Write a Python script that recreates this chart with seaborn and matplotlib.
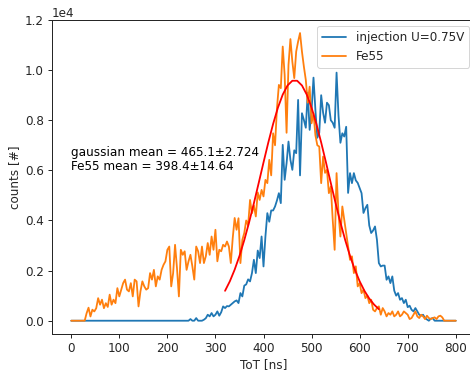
import numpy as np
import pandas as pd
import seaborn as sns
import matplotlib
matplotlib.use("Agg")
import matplotlib.pyplot as plt

sns.set_style("ticks")

tot_ns = list(range(0, 801, 4))

fe55 = [
    0, 0, 0, 0, 0, 0, 0, 0, 300, 520,
    170, 440, 370, 500, 900, 640, 840, 500, 700, 550,
    1040, 640, 840, 700, 1300, 970, 1240, 1500, 1640, 1240,
    1170, 1500, 970, 1640, 1570, 570, 1170, 1570, 1370, 1240,
    1300, 1900, 1640, 2030, 1370, 1770, 1640, 2030, 2230, 2370,
    2830, 2960, 1370, 1900, 3030, 2100, 970, 2830, 2630, 2770,
    2030, 2370, 2630, 2170, 1640, 2960, 2770, 2300, 2960, 2300,
    2570, 3100, 2630, 3360, 2830, 3630, 2370, 2830, 2770, 3030,
    2960, 3160, 2960, 2300, 3300, 4100, 3630, 4090, 2300, 3230,
    3500, 4000, 3800, 4820, 4290, 4600, 4160, 5120, 4820, 5220,
    4960, 5620, 5490, 6420, 5800, 7480, 7000, 8480, 9410, 9280,
    10940, 9810, 7500, 10210, 11240, 10340, 9680, 10740, 11140, 11480,
    10740, 10140, 9610, 8700, 9340, 7880, 8280, 7400, 7000, 6950,
    5490, 6550, 5900, 6020, 5090, 5360, 4030, 2830, 5890, 4290,
    3360, 4560, 4030, 3500, 2960, 2430, 2570, 1900, 2170, 1370,
    1500, 1100, 1236, 900, 1000, 700, 837, 438, 372, 505,
    572, 239, 505, 372, 173, 306, 239, 372, 173, 239,
    372, 173, 239, 372, 306, 239, 66, 106, 239, 372,
    173, 106, 239, 173, 66, 200, 106, 66, 106, 133,
    66, 173, 200, 133, 0, 0, 0, 0, 0, 0,
    0,
]

injection = [
    0, 0, 0, 0, 0, 0, 0, 0, 0, 0,
    0, 0, 0, 0, 0, 0, 0, 0, 0, 0,
    0, 0, 0, 0, 0, 0, 0, 0, 0, 0,
    0, 0, 0, 0, 0, 0, 0, 0, 0, 0,
    0, 0, 0, 0, 0, 0, 0, 0, 0, 0,
    0, 0, 0, 0, 0, 0, 0, 0, 0, 0,
    0, 0, 66, 0, 0, 106, 0, 0, 0, 40,
    100, 239, 173, 306, 173, 239, 372, 200, 339, 572,
    505, 585, 572, 638, 704, 771, 811, 704, 1103, 970,
    1400, 1450, 1650, 1569, 1900, 2432, 1900, 2800, 2500, 3362,
    2166, 3362, 4293, 3950, 4400, 4400, 4558, 4800, 5090, 4691,
    7017, 5622, 6286, 7150, 6419, 6020, 6800, 6685, 8811, 5800,
    8280, 8014, 7700, 9100, 7615, 8400, 9700, 8400, 7300, 7500,
    9000, 8300, 7900, 8700, 8600, 8000, 7900, 7700, 9900, 8200,
    7100, 7480, 7350, 7740, 5100, 5890, 5490, 5890, 5600, 5500,
    5300, 5090, 4300, 4492, 4625, 3800, 3500, 3600, 3761, 3229,
    2300, 2166, 2200, 2200, 1635, 1768, 1502, 1768, 1200, 1000,
    1103, 837, 903, 704, 837, 540, 600, 438, 372, 505,
    372, 239, 200, 239, 106, 50, 0, 80, 106, 0,
    0, 0, 0, 0, 0, 0, 0, 0, 0, 0,
    0,
]

fit_tot = list(range(320, 641, 10))
fit_counts = [
    1193, 1574, 2038, 2585, 3216, 3922, 4689, 5495, 6314, 7112,
    7853, 8502, 9023, 9388, 9576, 9576, 9388, 9023, 8502, 7853,
    7112, 6314, 5495, 4689, 3922, 3216, 2585, 2038, 1574, 1193,
    886, 645, 460,
]

xticks = [0, 100, 200, 300, 400, 500, 600, 700, 800]
yticks = [0, 2000, 4000, 6000, 8000, 10000, 12000]

df_inj = pd.DataFrame({"ToT": tot_ns, "counts": injection})
df_fe = pd.DataFrame({"ToT": tot_ns, "counts": fe55})
df_fit = pd.DataFrame({"ToT": fit_tot, "counts": fit_counts})

FS = 12
LW = 1.8
W, H = 470, 370
fig = plt.figure(figsize=(W / 72, H / 72), dpi=72)
ax = fig.add_axes([52 / W, 36 / H, (475 - 52) / W, (334 - 20) / H])

sns.lineplot(data=df_inj, x="ToT", y="counts", ax=ax, color="#1f77b4",
             label="injection U=0.75V", linewidth=LW)
sns.lineplot(data=df_fe, x="ToT", y="counts", ax=ax, color="#ff7f0e",
             label="Fe55", linewidth=LW)
sns.lineplot(data=df_fit, x="ToT", y="counts", ax=ax, color="red",
             linewidth=LW, legend=False)

ax.set_xlim(-40, 840)
ax.set_ylim(-530, 12000)
ax.set_xticks(xticks)
ax.set_yticks(yticks)
ax.ticklabel_format(axis="y", style="sci", scilimits=(0, 0))
ax.set_xlabel("ToT [ns]", fontsize=FS, labelpad=3)
ax.set_ylabel("counts [#]", fontsize=FS, labelpad=4)
ax.tick_params(labelsize=FS, length=4.2, width=1.0, pad=4)
ax.yaxis.get_offset_text().set_fontsize(FS)
for s in ax.spines.values():
    s.set_linewidth(1.0)

ax.text(0, 6000, "gaussian mean = 465.1±2.724\nFe55 mean = 398.4±14.64",
        fontsize=FS, color="black", linespacing=1.15)

leg = ax.legend(loc="upper right", fontsize=FS)

fig.savefig("out.png", dpi=72)
